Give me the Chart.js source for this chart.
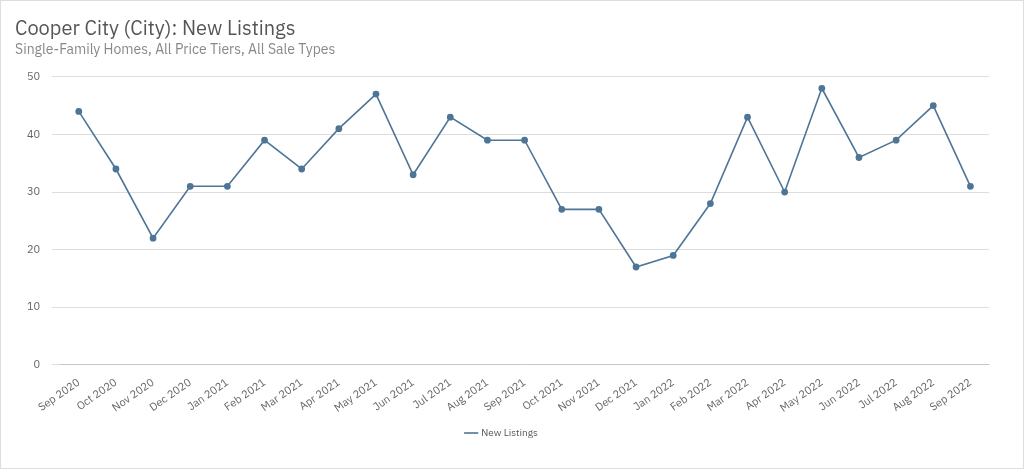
<!DOCTYPE html>
<html>
<head>
<script src="https://cdn.jsdelivr.net/npm/chart.js@4"></script>
<style>
body{margin:0;background:#fff;}
#wrap{position:absolute;left:0;top:0;width:1022px;height:467px;border:1px solid #ddd;}
</style>
</head>
<body>
<div id="wrap"><canvas id="c"></canvas></div>
<script>
const months=["Sep 2020","Oct 2020","Nov 2020","Dec 2020","Jan 2021","Feb 2021","Mar 2021","Apr 2021","May 2021","Jun 2021","Jul 2021","Aug 2021","Sep 2021","Oct 2021","Nov 2021","Dec 2021","Jan 2022","Feb 2022","Mar 2022","Apr 2022","May 2022","Jun 2022","Jul 2022","Aug 2022","Sep 2022"];
const newListings=[44,34,22,31,31,39,34,41,47,33,43,39,39,27,27,17,19,28,43,30,48,36,39,45,31];
const yTicks=[0,10,20,30,40,50];

const font="'IBM Plex Sans','Open Sans',sans-serif";
var ctx=document.getElementById("c").getContext("2d");
var myChart=new Chart(ctx,{
    type:"line",
    data:{
        labels:months,
        datasets:[{
            label:"New Listings",
            data:newListings,
            borderColor:"#4f7596",
            backgroundColor:"#4f7596",
            borderWidth:1.6,
            pointRadius:2.6,
            tension:0,
        }],
    },
    options:{
        responsive:true,
        maintainAspectRatio:false,
        animation:false,
        layout:{padding:{left:14,right:34,top:4,bottom:20}},
        plugins:{
            title:{display:true,text:"Cooper City (City): New Listings",align:"start",color:"#555",font:{family:font,size:20,weight:"normal"},padding:{top:12,bottom:1}},
            subtitle:{display:true,text:"Single-Family Homes, All Price Tiers, All Sale Types",align:"start",color:"#888",font:{family:font,size:14},padding:{bottom:18}},
            legend:{position:"bottom",labels:{usePointStyle:true,pointStyle:"line",boxWidth:30,color:"#555",font:{family:font,size:10}}},
        },
        scales:{
            x:{
                offset:true,
                grid:{display:false},
                ticks:{color:"#666",font:{family:font,size:11},maxRotation:35,minRotation:35,autoSkip:false},
            },
            y:{
                min:0,max:50,
                afterBuildTicks:function(s){s.ticks=yTicks.map(function(v){return {value:v};});},
                grid:{color:"#ddd"},
                border:{display:false},
                ticks:{color:"#666",font:{family:font,size:11},padding:12},
            },
        },
    },
});
</script>
</body>
</html>
